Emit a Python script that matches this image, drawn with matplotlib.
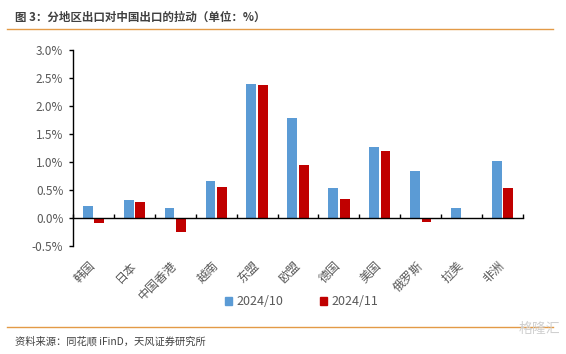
import matplotlib
matplotlib.use("Agg")
import matplotlib.pyplot as plt
import numpy as np
from matplotlib.lines import Line2D

plt.rcParams['font.family'] = ['Noto Sans CJK SC', 'DejaVu Sans']

regions = ["韩国", "日本", "中国香港", "越南", "东盟", "欧盟", "德国", "美国", "俄罗斯", "拉美", "非洲"]
oct_2024 = [0.21, 0.32, 0.18, 0.66, 2.39, 1.79, 0.54, 1.27, 0.84, 0.18, 1.02]
nov_2024 = [-0.09, 0.29, -0.25, 0.55, 2.37, 0.95, 0.34, 1.20, -0.07, 0.0, 0.54]
series_names = ["2024/10", "2024/11"]
yticks = [-0.5, 0.0, 0.5, 1.0, 1.5, 2.0, 2.5, 3.0]

blue = "#5B9BD5"
red = "#C00000"
grey = "#595959"
orange = "#E39A47"

fig = plt.figure(figsize=(5.66, 3.54), dpi=100)
ax = fig.add_axes([0.129, 0.305, 0.795, 0.554])

x = np.arange(len(regions))
w = 0.24
ax.bar(x - w / 2 - 0.02, oct_2024, w, color=blue, label=series_names[0])
ax.bar(x + w / 2 + 0.02, nov_2024, w, color=red, label=series_names[1])

ax.set_xlim(-0.5, len(regions) - 0.5)
ax.set_ylim(-0.5, 3.0)
ax.set_yticks(yticks)
ax.set_yticklabels([f"{v:.1f}%" for v in yticks], fontsize=8.5, color=grey)

for s in ["top", "right"]:
    ax.spines[s].set_visible(False)
ax.spines["bottom"].set_position(("data", 0))
ax.spines["bottom"].set_color("black")
ax.spines["bottom"].set_linewidth(1.0)
ax.spines["left"].set_linewidth(1.0)
ax.tick_params(axis="y", direction="out", length=3, width=1, pad=4)

# labels sit below the plot area, ticks on the zero line between groups
ax.set_xticks(x)
ax.set_xticklabels(regions, rotation=45, ha="right", va="center",
                   rotation_mode="anchor", fontsize=8.7, color=grey)
ax.tick_params(axis="x", which="major", length=0, pad=33)
ax.set_xticks(np.arange(-0.5, len(regions)), minor=True)
ax.tick_params(axis="x", which="minor", direction="in", length=3, width=1)

handles = [plt.Rectangle((0, 0), 1, 1, color=blue), plt.Rectangle((0, 0), 1, 1, color=red)]
fig.legend(handles, series_names, loc="center", bbox_to_anchor=(0.533, 0.147), ncol=2,
           frameon=False, fontsize=9, handlelength=0.55, handleheight=0.55,
           handletextpad=0.35, columnspacing=3.0, labelcolor=grey)

fig.text(0.026, 0.952, "图 3：分地区出口对中国出口的拉动（单位：%）", fontsize=8.3,
         fontweight="bold", color="#404040", va="center")
fig.add_artist(Line2D([0.012, 0.977], [0.919, 0.919], color=orange, lw=1.0))
fig.add_artist(Line2D([0.012, 0.977], [0.076, 0.076], color=orange, lw=1.0))
fig.text(0.026, 0.034, "资料来源：同花顺 iFinD，天风证券研究所", fontsize=7.4,
         color="#404040", va="center")
fig.text(0.99, 0.07, "格隆汇", fontsize=10, color="#D0D0D0", ha="right", va="center")

fig.savefig("out.png", dpi=100)
